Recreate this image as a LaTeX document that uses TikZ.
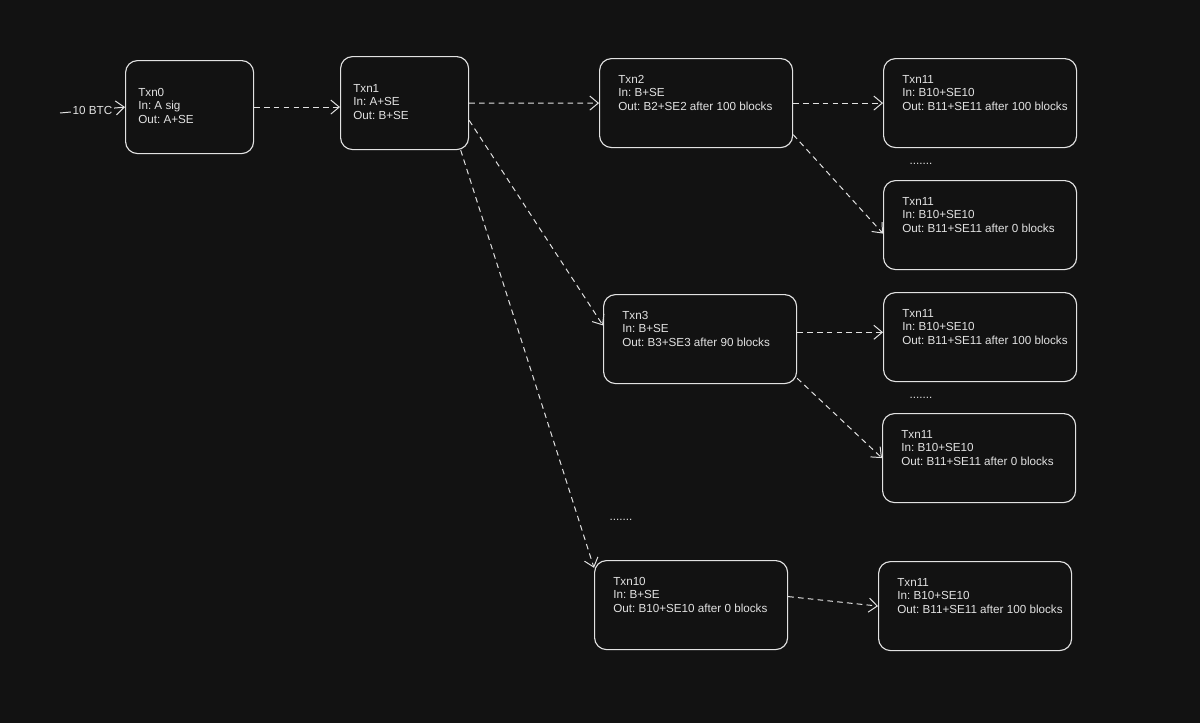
\documentclass[tikz,border=0pt]{standalone}
\usepackage{fontspec}
\setmainfont{Liberation Sans}
\usepackage{tikz}
\usetikzlibrary{arrows.meta}
\definecolor{bg}{HTML}{121212}
\definecolor{fg}{HTML}{E2E2E2}
\newcommand{\txtfont}{\frenchspacing\fontsize{8.3}{9.6}\selectfont}

\begin{document}
\begin{tikzpicture}[
      x=0.025cm, y=-0.025cm,
      txn/.style={draw=fg, line width=0.8pt, rounded corners=0.3cm, anchor=north west},
      body/.style={anchor=north west, align=left, inner sep=0pt, font=\txtfont, text=fg},
      wide/.style={txn, minimum width=4.825cm, minimum height=2.225cm,
        label={[body, xshift=0.475cm, yshift=-0.425cm]north west:{#1}}},
      narrow/.style={txn, minimum width=3.2cm, minimum height=2.325cm,
        label={[body, xshift=0.325cm, yshift=-0.7cm]north west:{#1}}},
      flow/.style={draw=fg, line width=0.7pt, dash pattern=on 4pt off 3pt,
        -{Straight Barb[length=6pt,width=10pt]}},
      more/.style={font=\txtfont, text=fg}
      ]
      \fill[bg] (0,0) rectangle (1200,723);

      \node[narrow={Txn0\\In: A sig\\Out: A+SE}] (t0) at (125,60) {};
      \node[narrow={Txn1\\In: A+SE\\Out: B+SE}] (t1) at (340,56) {};
      \node[wide={Txn2\\In: B+SE\\Out: B2+SE2 after 100 blocks}] (t2) at (599,58) {};
      \node[wide={Txn3\\In: B+SE\\Out: B3+SE3 after 90 blocks}] (t3) at (603,294) {};
      \node[wide={Txn10\\In: B+SE\\Out: B10+SE10 after 0 blocks}] (t10) at (594,560) {};
      \node[wide={Txn11\\In: B10+SE10\\Out: B11+SE11 after 100 blocks}] (u1) at (883,58) {};
      \node[wide={Txn11\\In: B10+SE10\\Out: B11+SE11 after 0 blocks}] (u2) at (883,180) {};
      \node[wide={Txn11\\In: B10+SE10\\Out: B11+SE11 after 100 blocks}] (u3) at (883,292) {};
      \node[wide={Txn11\\In: B10+SE10\\Out: B11+SE11 after 0 blocks}] (u4) at (882,413) {};
      \node[wide={Txn11\\In: B10+SE10\\Out: B11+SE11 after 100 blocks}] (u5) at (878,561) {};

      \node[more] (d1) at (921,164) {.......};
      \node[more] (d2) at (921,398) {.......};
      \node[more] (d3) at (621,520) {.......};

      \coordinate (src) at (60,113);
      \draw[flow, solid] (src) -- (t0.west)
        node[midway, fill=bg, inner sep=1pt, more] (btc) {10 BTC};
      \draw[flow] (t0.east) -- (t0.east -| t1.west);
      \draw[flow] (t1.east) -- (t2.west);
      \draw[flow] (t1.-15) -- (t3.172);
      \draw[flow] (t1.-40) -- (t10.159);
      \draw[flow] (t2.east) -- (u1.west);
      \draw[flow] (t2.-18) -- (u2.185);
      \draw[flow] (t3.4) -- (t3.4 -| u3.west);
      \draw[flow] (t3.-22) -- (u4.west);
      \draw[flow] (t10.5) -- (u5.west);
    \end{tikzpicture}
\end{document}
